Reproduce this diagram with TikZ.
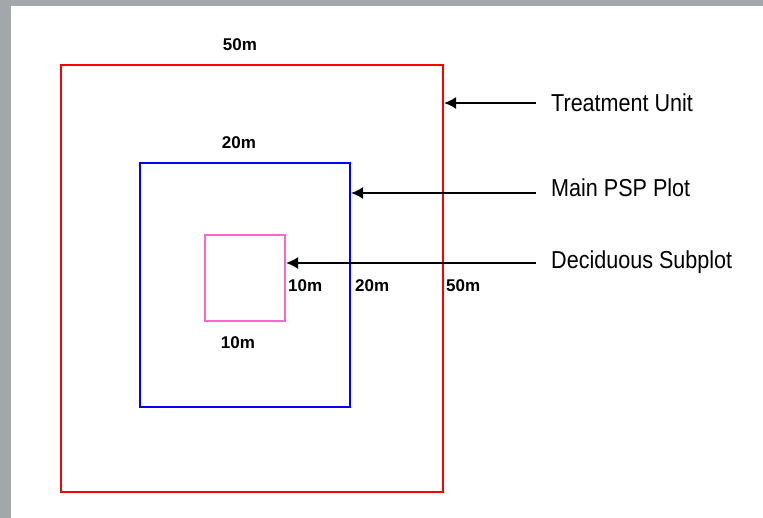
\documentclass[tikz,border=0pt]{standalone}
\usepackage{fontspec}
\setmainfont{Liberation Sans}
\usepackage{graphicx}
\usetikzlibrary{arrows.meta}
\definecolor{bggray}{HTML}{A3A7AA}
\definecolor{pinkline}{HTML}{FF66CC}
\newcommand{\sq}[1]{\scalebox{0.88}[1]{#1}}
\begin{document}
\begin{tikzpicture}[x=1pt,y=-1pt,
  dim/.style={inner sep=0pt,font=\fontsize{17}{19}\selectfont\bfseries},
  lbl/.style={inner sep=0pt,anchor=west,font=\fontsize{24.5}{28}\selectfont},
  box/.style={line width=2pt},
  pointer/.style={line width=2pt,-{Latex[length=12pt,width=12pt]}}]
\useasboundingbox (0,0) rectangle (763,518);
\fill[bggray] (0,0) rectangle (763,518);
\fill[white] (11,6) rectangle (763,518);
% boxes
\draw[box,red] (61,65) rectangle (443,492);
\coordinate (redR) at (444,103);
\draw[box,blue] (140,163) rectangle (350,407);
\coordinate (blueR) at (351,193);
\draw[box,pinkline] (205,235) rectangle (285,321);
\coordinate (pinkR) at (286,263);
% labels
\node[lbl] (tu) at (551,103) {\sq{Treatment Unit}};
\node[lbl] (mp) at (551,188) {\sq{Main PSP Plot}};
\node[lbl] (ds) at (551,262) {\sq{Deciduous Subplot}};
\coordinate (a1) at (536,103);
\coordinate (a2) at (536,193);
\coordinate (a3) at (536,263);
\draw[pointer] (a1) -- (redR);
\draw[pointer] (a2) -- (blueR);
\draw[pointer] (a3) -- (pinkR);
% dimension labels
\node[dim] (d50t) at (240,45) {50m};
\node[dim] (d20t) at (239,143) {20m};
\node[dim] (d10b) at (238,343) {10m};
\node[dim,anchor=west] (d10r) at (288,286) {10m};
\node[dim,anchor=west] (d20r) at (355,286) {20m};
\node[dim,anchor=west] (d50r) at (446,286) {50m};
\end{tikzpicture}
\end{document}
